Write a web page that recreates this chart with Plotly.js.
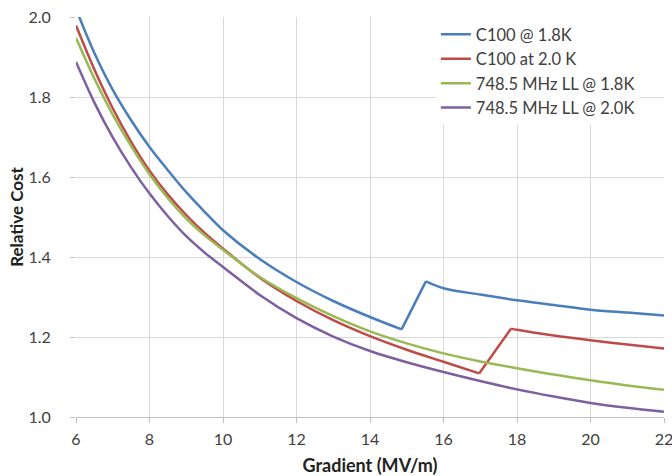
<!DOCTYPE html>
<html>
<head>
<meta charset="utf-8">
<script src="https://cdn.plot.ly/plotly-3.0.1.min.js"></script>
<style>html,body{margin:0;padding:0;background:#fff;}#chart{width:672px;height:476px;}</style>
</head>
<body>
<div id="chart"></div>
<script>
// Gradient (MV/m) and relative cost
const seriesNames = ["C100 @ 1.8K", "C100 at 2.0 K", "748.5 MHz LL @ 1.8K", "748.5 MHz LL @ 2.0K"];

const c100_18_x = [6, 6.5, 7, 7.5, 8, 8.5, 9, 9.5, 10, 11, 12, 13, 14, 14.86, 15.52, 16, 17, 18, 19, 20, 21, 22];
const c100_18_y = [2.02, 1.91, 1.818, 1.742, 1.675, 1.617, 1.562, 1.513, 1.467, 1.395, 1.3375, 1.29, 1.25, 1.219, 1.339, 1.322, 1.306, 1.292, 1.28, 1.268, 1.261, 1.254];

const c100_20_x = [6, 6.5, 7, 7.5, 8, 8.5, 9, 9.5, 10, 11, 12, 13, 14, 15, 16, 16.97, 17.84, 18, 19, 20, 21, 22];
const c100_20_y = [1.979, 1.869, 1.772, 1.688, 1.616, 1.556, 1.505, 1.46, 1.421, 1.348, 1.29, 1.242, 1.202, 1.168, 1.138, 1.109, 1.221, 1.218, 1.204, 1.192, 1.181, 1.171];

const ll_18_x = [6, 6.5, 7, 7.5, 8, 8.5, 9, 9.5, 10, 11, 12, 13, 14, 15, 16, 17, 18, 19, 20, 21, 22];
const ll_18_y = [1.948, 1.846, 1.756, 1.677, 1.607, 1.547, 1.496, 1.454, 1.418, 1.35, 1.297, 1.252, 1.214, 1.184, 1.159, 1.139, 1.122, 1.106, 1.092, 1.079, 1.068];

const ll_20_x = [6, 6.5, 7, 7.5, 8, 8.5, 9, 9.5, 10, 11, 12, 13, 14, 15, 16, 17, 18, 19, 20, 21, 22];
const ll_20_y = [1.8875, 1.786, 1.699, 1.624, 1.5585, 1.502, 1.452, 1.411, 1.375, 1.305, 1.247, 1.201, 1.165, 1.137, 1.1125, 1.09, 1.069, 1.051, 1.035, 1.023, 1.013];

// index of the cost step (last point before the jump) for each series, -1 if none
const jumpIndex = [13, 15, -1, -1];

const xTicks = [6, 8, 10, 12, 14, 16, 18, 20, 22];
const yTicks = [1.0, 1.2, 1.4, 1.6, 1.8, 2.0];

const colors = ["#4A7EBB", "#BE4B48", "#98B954", "#7D60A0"];
const xs = [c100_18_x, c100_20_x, ll_18_x, ll_20_x];
const ys = [c100_18_y, c100_20_y, ll_18_y, ll_20_y];

const traces = [];
seriesNames.forEach((n, i) => {
  const line = {color: colors[i], width: 2.5};
  const smooth = Object.assign({shape: "spline", smoothing: 0.9}, line);
  const j = jumpIndex[i];
  const base = {type: "scatter", mode: "lines", legendgroup: "g" + i, name: n};
  if (j < 0) {
    traces.push(Object.assign({}, base, {x: xs[i], y: ys[i], line: smooth}));
  } else {
    traces.push(Object.assign({}, base, {x: xs[i].slice(0, j + 1), y: ys[i].slice(0, j + 1), line: smooth}));
    traces.push(Object.assign({}, base, {x: xs[i].slice(j, j + 2), y: ys[i].slice(j, j + 2), line: line, showlegend: false}));
    traces.push(Object.assign({}, base, {x: xs[i].slice(j + 1), y: ys[i].slice(j + 1), line: smooth, showlegend: false}));
  }
});

const font = "Lato, 'Open Sans', sans-serif";
const layout = {
  width: 672, height: 476,
  margin: {l: 76, r: 8, t: 17, b: 59},
  paper_bgcolor: "#fff", plot_bgcolor: "#fff",
  showlegend: true,
  font: {family: font, color: "#404040", size: 16},
  xaxis: {
    range: [6, 22], tickvals: xTicks, ticktext: xTicks.map(String),
    showgrid: true, gridcolor: "#d9d9d9", gridwidth: 1,
    zeroline: false, showline: true, linecolor: "#bfbfbf",
    ticks: "outside", ticklen: 5, tickcolor: "#bfbfbf",
    ticklabeloverflow: "allow", ticklabelstandoff: 3,
    tickfont: {size: 16, color: "#404040"},
    title: {text: "<b>Gradient (MV/m)</b>", font: {size: 18, color: "#222"}, standoff: 12}
  },
  yaxis: {
    range: [1.0, 2.0], tickvals: yTicks, ticktext: yTicks.map(v => v.toFixed(1)),
    showgrid: true, gridcolor: "#d9d9d9", gridwidth: 1,
    zeroline: false, showline: false,
    ticks: "outside", ticklen: 5, tickcolor: "#bfbfbf",
    ticklabelstandoff: 16,
    tickfont: {size: 16, color: "#404040"},
    title: {text: "<b>Relative Cost</b>", font: {size: 17, color: "#222"}, standoff: 0}
  },
  legend: {
    x: 0.612, y: 1, xanchor: "left", yanchor: "top",
    bgcolor: "#fff", borderwidth: 0,
    font: {size: 16.5, color: "#404040"},
    tracegroupgap: 0
  }
};

Plotly.newPlot("chart", traces, layout, {displayModeBar: false, staticPlot: true});
</script>
</body>
</html>
